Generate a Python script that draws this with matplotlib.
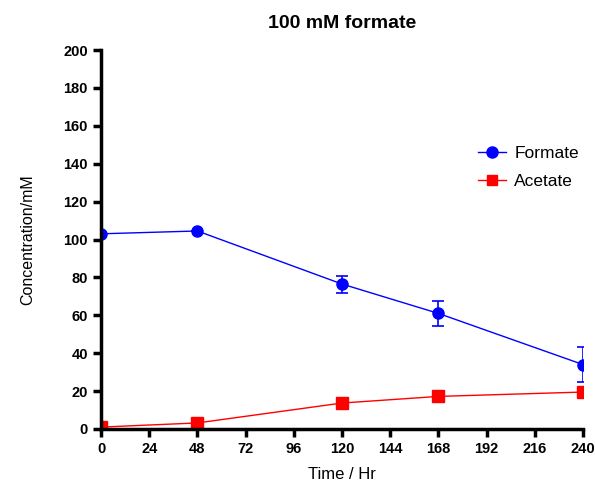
import matplotlib
matplotlib.use("Agg")
import matplotlib.pyplot as plt
from matplotlib.lines import Line2D

plt.rcParams['font.family'] = ['Liberation Sans', 'DejaVu Sans']

time = [0, 48, 120, 168, 240]
formate = [103, 104.5, 76.5, 61, 34]
formate_err = [0, 0, 4.5, 6.8, 9.2]
acetate = [1, 3.2, 13.7, 17.2, 19.5]
acetate_err = [0, 0, 0, 0, 0]

xticks = list(range(0, 241, 24))
yticks = list(range(0, 201, 20))

fig = plt.figure(figsize=(5.95, 4.87), dpi=100)
ax = fig.add_axes([101/595, 1 - 429/487, (583-101)/595, (429-50)/487])

ax.errorbar(time, formate, yerr=formate_err, color='#0000ff', marker='o', markersize=8,
            linewidth=1, elinewidth=1.2, capsize=4.3, capthick=1.2, clip_on=True)
ax.errorbar(time, acetate, yerr=acetate_err, color='#ff0000', marker='s', markersize=8,
            linewidth=1, elinewidth=1.2, capsize=4.3, capthick=1.2, clip_on=True)

ax.set_xlim(0, 240)
ax.set_ylim(0, 200)
ax.set_xticks(xticks)
ax.set_yticks(yticks)
for s in ['top', 'right']:
    ax.spines[s].set_visible(False)
for s in ['left', 'bottom']:
    ax.spines[s].set_linewidth(2.5)
ax.tick_params(direction='out', width=2.5, length=6, labelsize=10.5)
for lab in ax.get_xticklabels() + ax.get_yticklabels():
    lab.set_fontweight('bold')

ax.set_title('100 mM formate', fontsize=14, fontweight='bold', pad=16)
ax.set_xlabel('Time / Hr', fontsize=12, labelpad=8)
ax.set_ylabel('Concentration/mM', fontsize=11.5, labelpad=20)

# legend without error bars in the handles
handles = [Line2D([], [], color='#0000ff', marker='o', markersize=8, linewidth=1),
           Line2D([], [], color='#ff0000', marker='s', markersize=7.5, linewidth=1)]
ax.legend(handles, ['Formate', 'Acetate'], loc='upper left', bbox_to_anchor=(0.782, 0.748),
          frameon=False, fontsize=12.5, handlelength=1.6, handletextpad=0.5,
          labelspacing=0.78, borderpad=0, borderaxespad=0)

fig.savefig('out.png', dpi=100)
